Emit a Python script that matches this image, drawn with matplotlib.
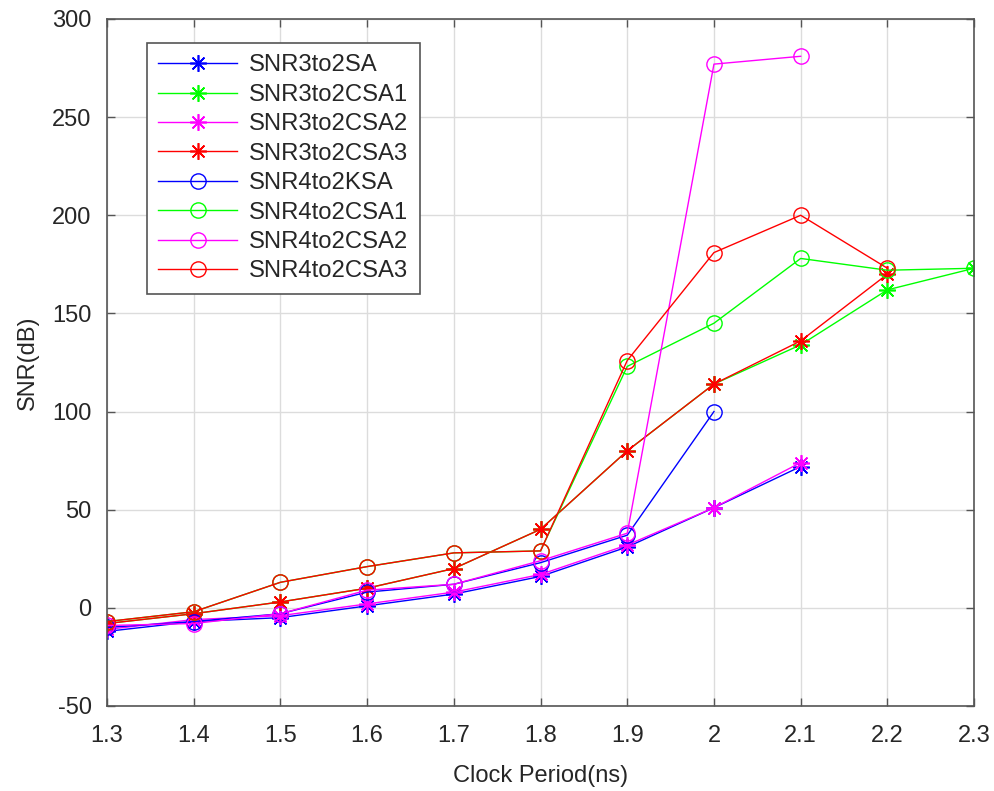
import matplotlib
matplotlib.use("Agg")
import matplotlib.pyplot as plt

plt.rcParams['font.family'] = ['Liberation Sans', 'DejaVu Sans']
plt.rcParams['axes.unicode_minus'] = False

# Clock period sweep (ns)
clock_ns = [1.3, 1.4, 1.5, 1.6, 1.7, 1.8, 1.9, 2.0, 2.1, 2.2, 2.3]

# SNR (dB) for each adder configuration
snr_3to2_sa = [-12, -7, -5, 1, 7, 16, 31, 51, 72]
snr_3to2_csa1 = [-8, -3, 3, 10, 20, 40, 80, 114, 134, 162, 173]
snr_3to2_csa2 = [-11, -6, -4, 2, 8, 17, 32, 51, 74]
snr_3to2_csa3 = [-8, -3, 3, 10, 20, 40, 80, 114, 136, 170]
snr_4to2_ksa = [-10, -7, -3, 8, 12, 23, 37, 100]
snr_4to2_csa1 = [-7, -2, 13, 21, 28, 29, 123, 145, 178, 172, 173]
snr_4to2_csa2 = [-9, -8, -3, 9, 12, 24, 38, 277, 281]
snr_4to2_csa3 = [-7, -2, 13, 21, 28, 29, 126, 181, 200, 173]

series_labels = ['SNR3to2SA', 'SNR3to2CSA1', 'SNR3to2CSA2', 'SNR3to2CSA3',
                 'SNR4to2KSA', 'SNR4to2CSA1', 'SNR4to2CSA2', 'SNR4to2CSA3']
series_values = [snr_3to2_sa, snr_3to2_csa1, snr_3to2_csa2, snr_3to2_csa3,
                 snr_4to2_ksa, snr_4to2_csa1, snr_4to2_csa2, snr_4to2_csa3]
series_colors = ['#0000ff', '#00ff00', '#ff00ff', '#ff0000',
                 '#0000ff', '#00ff00', '#ff00ff', '#ff0000']
series_markers = [(8, 2, 0)] * 4 + ['o'] * 4

x_ticks = [1.3, 1.4, 1.5, 1.6, 1.7, 1.8, 1.9, 2.0, 2.1, 2.2, 2.3]
x_ticklabels = ['1.3', '1.4', '1.5', '1.6', '1.7', '1.8', '1.9', '2', '2.1', '2.2', '2.3']
y_ticks = [-50, 0, 50, 100, 150, 200, 250, 300]

fig = plt.figure(figsize=(9.95, 7.91), dpi=100)
ax = fig.add_axes([0.1075, 0.1075, 0.8715, 0.8685])

txt = '#262626'
for label, vals, col, mk in zip(series_labels, series_values, series_colors, series_markers):
    xs = clock_ns[:len(vals)]
    if mk == 'o':
        ax.plot(xs, vals, color=col, lw=1.0, marker='o', markersize=11,
                markerfacecolor='none', markeredgecolor=col, markeredgewidth=1.0,
                label=label)
    else:
        ax.plot(xs, vals, color=col, lw=1.0, marker=mk, markersize=12,
                markeredgewidth=1.2, label=label)

ax.set_xlim(1.3, 2.3)
ax.set_ylim(-50, 300)
ax.set_xticks(x_ticks)
ax.set_xticklabels(x_ticklabels)
ax.set_yticks(y_ticks)

ax.grid(True, color='#dcdcdc', lw=1.0)
ax.set_axisbelow(True)
for sp in ax.spines.values():
    sp.set_color('#555555')
    sp.set_linewidth(1.2)
ax.tick_params(direction='in', length=6, width=1.0, colors='#555555',
               labelcolor=txt, labelsize=17, top=True, right=True)
ax.tick_params(axis='x', pad=14)
ax.tick_params(axis='y', pad=11)

ax.set_xlabel('Clock Period(ns)', fontsize=17, color=txt, labelpad=13)
ax.set_ylabel('SNR(dB)', fontsize=17, color=txt, labelpad=10)

leg = ax.legend(loc='upper left', bbox_to_anchor=(0.046, 0.965), fontsize=17.2,
                handlelength=3.3, handletextpad=0.5, labelspacing=0.31,
                borderpad=0.48, borderaxespad=0.0, fancybox=False, framealpha=1.0)
leg.get_frame().set_edgecolor('#555555')
leg.get_frame().set_linewidth(1.2)
for t in leg.get_texts():
    t.set_color(txt)

fig.savefig('out.png', dpi=100)
